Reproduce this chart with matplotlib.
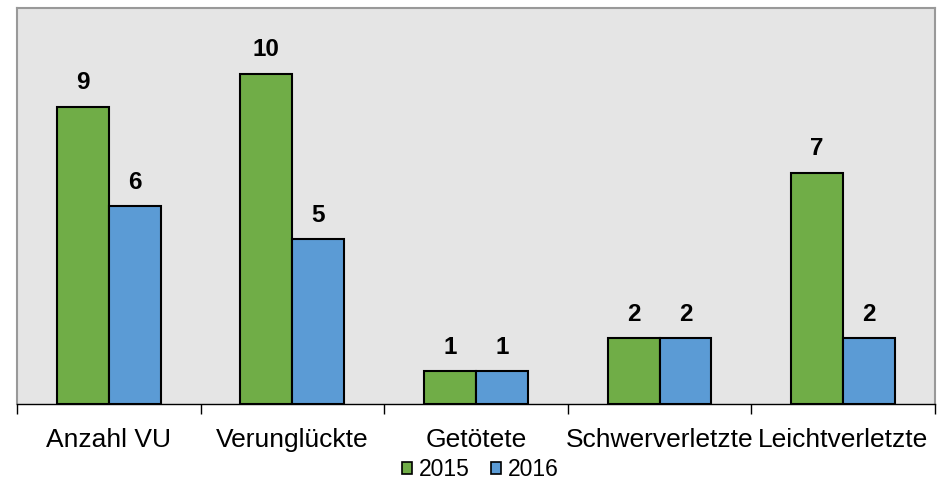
import numpy as np
import matplotlib.pyplot as plt
from matplotlib.patches import Patch

categories = ['Anzahl VU', 'Verunglückte', 'Getötete', 'Schwerverletzte', 'Leichtverletzte']
values_2015 = [9, 10, 1, 2, 7]
values_2016 = [6, 5, 1, 2, 2]
series_labels = ['2015', '2016']

green = '#70AD47'
blue = '#5B9BD5'

plt.rcParams['font.family'] = ['Liberation Sans', 'DejaVu Sans']

fig = plt.figure(figsize=(9.42, 4.87), dpi=100)
ax = fig.add_axes([0.018, 0.1704, 0.9745, 0.8132])
ax.set_facecolor('#E5E5E5')

x = np.arange(len(categories))
w = 0.283
bars1 = ax.bar(x - w / 2, values_2015, w, color=green, edgecolor='black', linewidth=1.5, zorder=3)
bars2 = ax.bar(x + w / 2, values_2016, w, color=blue, edgecolor='black', linewidth=1.5, zorder=3)

for bars in (bars1, bars2):
    for b in bars:
        ax.annotate(str(int(b.get_height())), (b.get_x() + b.get_width() / 2, b.get_height()),
                    xytext=(0, 9), textcoords='offset points', ha='center', va='bottom',
                    fontsize=17.5, fontweight='bold')

ax.set_xlim(-0.5, len(categories) - 0.5)
ax.set_ylim(0, 12)
ax.set_yticks([])

ax.set_xticks(x)
ax.set_xticklabels(categories, fontsize=19)
ax.tick_params(axis='x', which='major', length=0, pad=17)
ax.set_xticks(np.arange(len(categories) + 1) - 0.5, minor=True)
ax.tick_params(axis='x', which='minor', length=7, width=1, color='black')

for side in ('top', 'left', 'right'):
    ax.spines[side].set_color('#999999')
    ax.spines[side].set_linewidth(1.5)
ax.spines['bottom'].set_color('black')
ax.spines['bottom'].set_linewidth(1)

handles = [Patch(facecolor=green, edgecolor='black', linewidth=1.2),
           Patch(facecolor=blue, edgecolor='black', linewidth=1.2)]
fig.legend(handles, series_labels, loc='center', bbox_to_anchor=(0.51, 0.036), ncol=2,
           frameon=False, fontsize=16.5, handlelength=0.45, handleheight=0.45,
           handletextpad=0.3, columnspacing=0.9)

fig.savefig('out.png', dpi=100)
